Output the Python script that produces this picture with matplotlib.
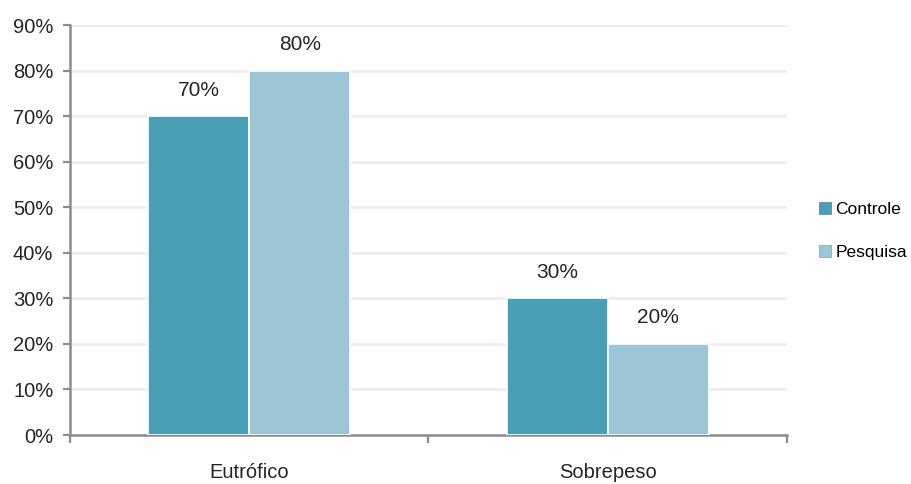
import matplotlib
matplotlib.use("Agg")
import matplotlib.pyplot as plt
from matplotlib.ticker import FuncFormatter
from matplotlib.patches import Patch
import numpy as np

categories = ["Eutrófico", "Sobrepeso"]
series_names = ["Controle", "Pesquisa"]
controle = [70, 30]
pesquisa = [80, 20]
y_ticks = [0, 10, 20, 30, 40, 50, 60, 70, 80, 90]

colors = ["#4A9EB5", "#9AC6D6"]

plt.rcParams["font.family"] = ["Liberation Sans Narrow", "Liberation Sans", "DejaVu Sans"]

fig = plt.figure(figsize=(9.12, 4.84), dpi=100)
ax = fig.add_axes([0.0768, 0.1012, 0.786, 0.847])

x = np.arange(len(categories))
width = 0.282
for i, (vals, name) in enumerate(zip([controle, pesquisa], series_names)):
    offs = (i - 0.5) * width
    bars = ax.bar(x + offs, vals, width=width, color=colors[i],
                  edgecolor="white", linewidth=1.2, zorder=3, label=name)
    for b, v in zip(bars, vals):
        ax.annotate(f"{v}%", (b.get_x() + b.get_width() / 2, v),
                    xytext=(0, 12), textcoords="offset points",
                    ha="center", va="bottom", fontsize=15, color="#262626")

ax.set_xlim(-0.5, len(categories) - 0.5)
ax.set_ylim(0, 90)
ax.set_yticks(y_ticks)
ax.yaxis.set_major_formatter(FuncFormatter(lambda v, p: f"{v:.0f}%"))
ax.grid(axis="y", color="#EEEEEE", linewidth=2, zorder=0)
ax.set_axisbelow(True)

ax.set_xticks(x)
ax.set_xticklabels(categories)
ax.set_xticks(np.arange(-0.5, len(categories), 1.0), minor=True)
ax.tick_params(axis="x", which="major", length=0, pad=20, labelsize=14.5, labelcolor="#262626")
ax.tick_params(axis="x", which="minor", length=6, width=1.6, color="#8C8C8C", direction="out")
ax.tick_params(axis="y", length=5, width=1.6, color="#8C8C8C", labelsize=14.5,
               labelcolor="#262626", pad=7)

for s in ["top", "right"]:
    ax.spines[s].set_visible(False)
for s in ["left", "bottom"]:
    ax.spines[s].set_color("#8C8C8C")
    ax.spines[s].set_linewidth(1.8)

handles = [Patch(facecolor=colors[0], edgecolor="#6C8A96", linewidth=0.6),
           Patch(facecolor=colors[1], edgecolor="#8FA9B3", linewidth=0.6)]
fig.legend(handles, series_names, loc="center left", bbox_to_anchor=(0.898, 0.522),
           frameon=False, fontsize=12.5, handlelength=0.7, handleheight=0.7,
           handletextpad=0.25, labelspacing=1.6, borderpad=0, borderaxespad=0)

fig.savefig("out.png", dpi=100)
